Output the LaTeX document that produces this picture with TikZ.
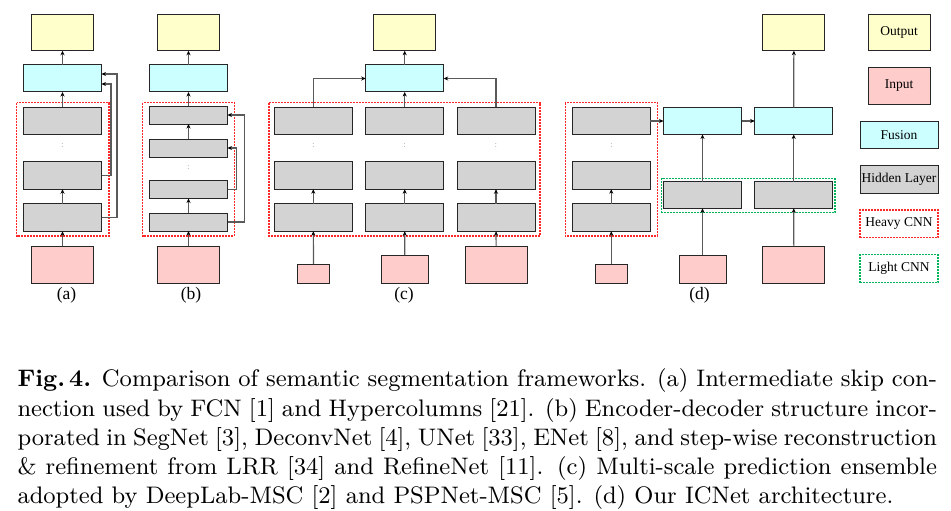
\documentclass[tikz,border=0pt]{standalone}
\usepackage{fontspec}
\newfontfamily\tms{Liberation Serif}
\newfontfamily\capfont{lmroman9-regular.otf}[BoldFont=lmroman9-bold.otf]
\usetikzlibrary{arrows.meta}
\definecolor{outc}{RGB}{255,255,204}
\definecolor{inc}{RGB}{255,204,204}
\definecolor{fusc}{RGB}{204,255,255}
\definecolor{hidc}{RGB}{211,211,211}
\definecolor{heavyc}{RGB}{255,40,40}
\definecolor{lightc}{RGB}{0,180,90}
\definecolor{linec}{RGB}{90,90,90}
\tikzset{
  blk/.style={draw=black!85, line width=1pt, inner sep=0pt, outer sep=0pt},
  outbox/.style={blk, fill=outc, minimum width=62pt, minimum height=36.5pt},
  fusbox/.style={blk, fill=fusc, minimum width=78pt, minimum height=27pt},
  hidbox/.style={blk, fill=hidc, minimum width=78pt, minimum height=27.5pt},
  hidthin/.style={blk, fill=hidc, minimum width=78pt, minimum height=18pt},
  inL/.style={blk, fill=inc, minimum width=62pt, minimum height=37pt},
  inM/.style={blk, fill=inc, minimum width=47pt, minimum height=28pt},
  inS/.style={blk, fill=inc, minimum width=31.5pt, minimum height=19pt},
  heavy/.style={draw=heavyc, line width=1.1pt, dash pattern=on 2pt off 1pt},
  light/.style={draw=lightc, line width=1.1pt, dash pattern=on 2pt off 1pt},
  conn/.style={draw=linec, line width=1.2pt, -{Stealth[length=4.5pt,width=4pt,color=black]}},
  vdot/.style={inner sep=0pt, font=\fontsize{9}{9}\selectfont, text=black!55},
  sublabel/.style={inner sep=0pt, font=\tms\fontsize{17.5}{19}\selectfont},
  legtext/.style={font=\tms\fontsize{13.5}{15}\selectfont}
}
\begin{document}
\begin{tikzpicture}[x=1pt,y=-1pt]
\useasboundingbox[fill=white] (0,0) rectangle (951,511);

% ---------------- (a) ----------------
\draw[heavy] (16.7,102.7) rectangle (109,236);
\node[outbox] (aout) at (62.5,32.5) {};
\node[fusbox] (afus) at (62.5,78.5) {};
\node[hidbox] (ah1) at (62.5,121) {};
\node[vdot] (adots) at (62.5,146) {:};
\node[hidbox] (ah2) at (62.5,175.5) {};
\node[hidbox] (ah3) at (62.5,217.5) {};
\node[inL] (ain) at (62.5,264.5) {};
\node[sublabel] (alab) at (66.5,295.5) {(a)};
\draw[conn] (ain) -- (ah3);
\draw[conn] (ah3) -- (ah2);
\draw[conn] (ah1) -- (afus);
\draw[conn] (afus) -- (aout);
\coordinate (askA) at (111,84);
\coordinate (askB) at (117,74);
\draw[conn] (ah2.east) -| (askA) -- (afus.east |- askA);
\draw[conn] (ah3.east) -| (askB) -- (afus.east |- askB);

% ---------------- (b) ----------------
\draw[heavy] (142.7,102.7) rectangle (234.3,236);
\node[outbox] (bout) at (188.5,32.5) {};
\node[fusbox] (bfus) at (188.5,78.5) {};
\node[hidthin] (bh1) at (188.5,115) {};
\node[hidthin] (bh2) at (188.5,148) {};
\node[vdot] (bdots) at (188.5,168) {:};
\node[hidthin] (bh3) at (188.5,189.5) {};
\node[hidthin] (bh4) at (188.5,222) {};
\node[inL] (bin) at (188.5,264.5) {};
\node[sublabel] (blab) at (191,295.5) {(b)};
\draw[conn] (bin) -- (bh4);
\draw[conn] (bh4) -- (bh3);
\draw[conn] (bh2) -- (bh1);
\draw[conn] (bh1) -- (bfus);
\draw[conn] (bfus) -- (bout);
\coordinate (bskA) at (236.7,148);
\coordinate (bskB) at (244.7,115);
\draw[conn] (bh3.east) -| (bskA) -- (bh2.east);
\draw[conn] (bh4.east) -| (bskB) -- (bh1.east);

% ---------------- (c) ----------------
\draw[heavy] (269,102.7) rectangle (540,236);
\node[outbox] (cout) at (404.7,32.5) {};
\node[fusbox] (cfus) at (404.7,78.5) {};
\foreach \c/\x in {1/313.3,2/404.7,3/496} {
  \node[hidbox] (ch1\c) at (\x,121) {};
  \node[vdot] (cdots\c) at (\x,146) {:};
  \node[hidbox] (ch2\c) at (\x,175.5) {};
  \node[hidbox] (ch3\c) at (\x,217.5) {};
  \draw[conn] (ch3\c) -- (ch2\c);
}
\node[inS] (cin1) at (313.5,273.5) {};
\node[inM] (cin2) at (404.8,269) {};
\node[inL] (cin3) at (496.2,264.5) {};
\draw[conn] (cin1) -- (ch31);
\draw[conn] (cin2) -- (ch32);
\draw[conn] (cin3) -- (ch33);
\draw[conn] (ch11.north) |- (cfus.west);
\draw[conn] (ch13.north) |- (cfus.east);
\draw[conn] (ch12) -- (cfus);
\draw[conn] (cfus) -- (cout);
\node[sublabel] (clab) at (404,295.5) {(c)};

% ---------------- (d) ----------------
\draw[heavy] (565.3,102.7) rectangle (657.3,236);
\draw[light] (661.7,178.3) rectangle (835,212.3);
\node[outbox] (dout) at (793.9,32.5) {};
\node[hidbox] (dh1) at (611.3,121) {};
\node[vdot] (ddots) at (611.3,146) {:};
\node[hidbox] (dh2) at (611.3,175.5) {};
\node[hidbox] (dh3) at (611.3,217.5) {};
\node[fusbox] (dfus1) at (702.5,121) {};
\node[fusbox] (dfus2) at (793.7,121) {};
\node[blk, fill=hidc, minimum width=78pt, minimum height=26.6pt] (dm) at (702.5,195) {};
\node[blk, fill=hidc, minimum width=78pt, minimum height=26.6pt] (dl) at (793.7,195) {};
\node[inS] (din1) at (611.3,273.5) {};
\node[inM] (din2) at (702.5,269) {};
\node[inL] (din3) at (793.9,264.5) {};
\draw[conn] (din1) -- (dh3);
\draw[conn] (dh3) -- (dh2);
\draw[conn] (din2) -- (dm);
\draw[conn] (din3) -- (dl);
\draw[conn] (dh1) -- (dfus1);
\draw[conn] (dfus1) -- (dfus2);
\draw[conn] (dm) -- (dfus1);
\draw[conn] (dl) -- (dfus2);
\draw[conn] (dfus2) -- (dout);
\node[sublabel] (dlab) at (699.5,295.5) {(d)};

% ---------------- legend ----------------
\node[outbox, legtext] (lout) at (899,32.5) {Output};
\node[blk, fill=inc, minimum width=62pt, minimum height=36pt, legtext] (lin) at (899,86) {Input};
\node[fusbox, legtext] (lfus) at (899,134.8) {Fusion};
\node[hidbox, legtext] (lhid) at (899,179.5) {Hidden Layer};
\node[heavy, inner sep=0pt, minimum width=78pt, minimum height=27.7pt, legtext] (lheavy) at (899,223.8) {Heavy CNN};
\node[light, inner sep=0pt, minimum width=78pt, minimum height=28pt, legtext] (llight) at (899,268.7) {Light CNN};

% ---------------- caption ----------------
\node[anchor=north west, inner sep=0pt, text width=919.5pt, align=justify,
      font=\capfont\fontsize{23.9}{29.2}\selectfont] (cap) at (17.3,368.8)
{\textbf{Fig.\,4.} Comparison of semantic segmentation frameworks. (a) Intermediate skip con-\linebreak
nection used by FCN [1] and Hypercolumns [21]. (b) Encoder-decoder structure incor-\linebreak
porated in SegNet [3], DeconvNet [4], UNet [33], ENet [8], and step-wise reconstruction\linebreak
\& refinement from LRR [34] and RefineNet [11]. (c) Multi-scale prediction ensemble\linebreak
adopted by DeepLab-MSC [2] and PSPNet-MSC [5]. (d) Our ICNet architecture.};
\end{tikzpicture}
\end{document}
